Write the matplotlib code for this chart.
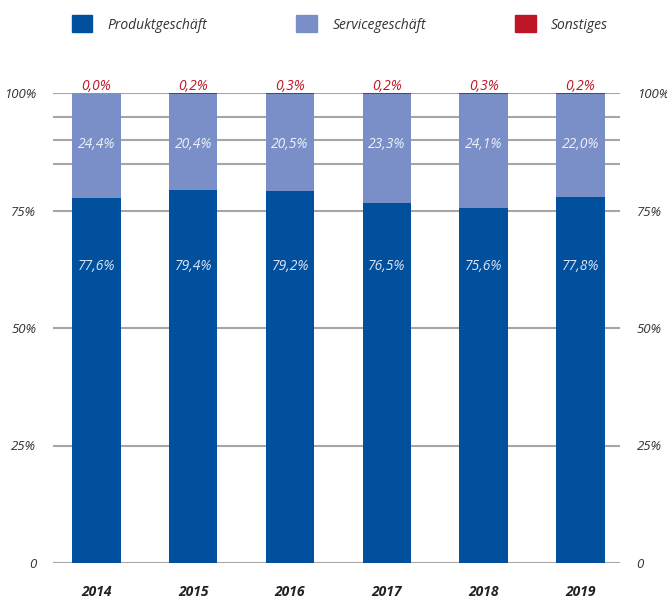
import matplotlib.pyplot as plt
from matplotlib.patches import Patch
import numpy as np

plt.rcParams['font.family'] = ['Open Sans', 'DejaVu Sans']

years = ['2014', '2015', '2016', '2017', '2018', '2019']
produkt = [77.6, 79.4, 79.2, 76.5, 75.6, 77.8]
service = [24.4, 20.4, 20.5, 23.3, 24.1, 22.0]
sonstiges = [0.0, 0.2, 0.3, 0.2, 0.3, 0.2]

c_prod = '#00509e'
c_serv = '#7a8fc7'
c_sons = '#c01527'
c_text = '#333333'

fig = plt.figure(figsize=(6.67, 5.99), dpi=100)
ax = fig.add_axes([53/667, 1 - 563/599, (620-53)/667, (563-93)/599])

x = np.arange(len(years))
prod = np.array(produkt)
serv = np.array(service)
sons = np.array(sonstiges)

ax.bar(x, prod, width=0.5, color=c_prod, zorder=3)
ax.bar(x, serv, width=0.5, bottom=prod, color=c_serv, zorder=3)
ax.bar(x, sons, width=0.5, bottom=prod + serv, color=c_sons, zorder=3)

# Hilfslinien
for yv in [0, 25, 50, 75, 85, 90, 95, 100]:
    ax.axhline(yv, color='#a6a6a6', lw=1.5, zorder=1)

def fmt(v):
    return f'{v:.1f}%'.replace('.', ',')

for i in range(len(years)):
    ax.text(x[i], 63.0, fmt(prod[i]), ha='center', va='center', color='#dfe5f3',
            fontsize=10, style='italic', zorder=4)
    ax.text(x[i], 89.0, fmt(serv[i]), ha='center', va='center', color='#eef1f9',
            fontsize=10, style='italic', zorder=4)
    ax.text(x[i], 101.3, fmt(sons[i]), ha='center', va='center', color=c_sons,
            fontsize=10, style='italic', zorder=4, clip_on=False)

ax.set_xlim(-0.45, 5.41)
ax.set_ylim(0, 100)
ax.set_yticks([0, 25, 50, 75, 100])
ax.set_yticklabels(['0', '25%', '50%', '75%', '100%'], style='italic', color=c_text, fontsize=9.5)
ax.tick_params(axis='y', length=0, pad=12, labelright=True)
ax.tick_params(axis='y', which='major', right=False)
ax.set_xticks(x)
ax.set_xticklabels(years, style='italic', weight='bold', color='#222222', fontsize=10)
ax.tick_params(axis='x', length=0, pad=16)
for s in ax.spines.values():
    s.set_visible(False)

handles = [Patch(color=c_prod, label='Produktgeschäft'),
           Patch(color=c_serv, label='Servicegeschäft'),
           Patch(color=c_sons, label='Sonstiges')]
leg = fig.legend(handles=handles, loc='center left', bbox_to_anchor=(59/667, 1 - 24/599),
                 ncol=3, frameon=False, handlelength=1.5, handleheight=1.5,
                 handletextpad=1.1, columnspacing=6.4, fontsize=10)
for t in leg.get_texts():
    t.set_style('italic')
    t.set_color(c_text)

fig.savefig('out.png', dpi=100)
